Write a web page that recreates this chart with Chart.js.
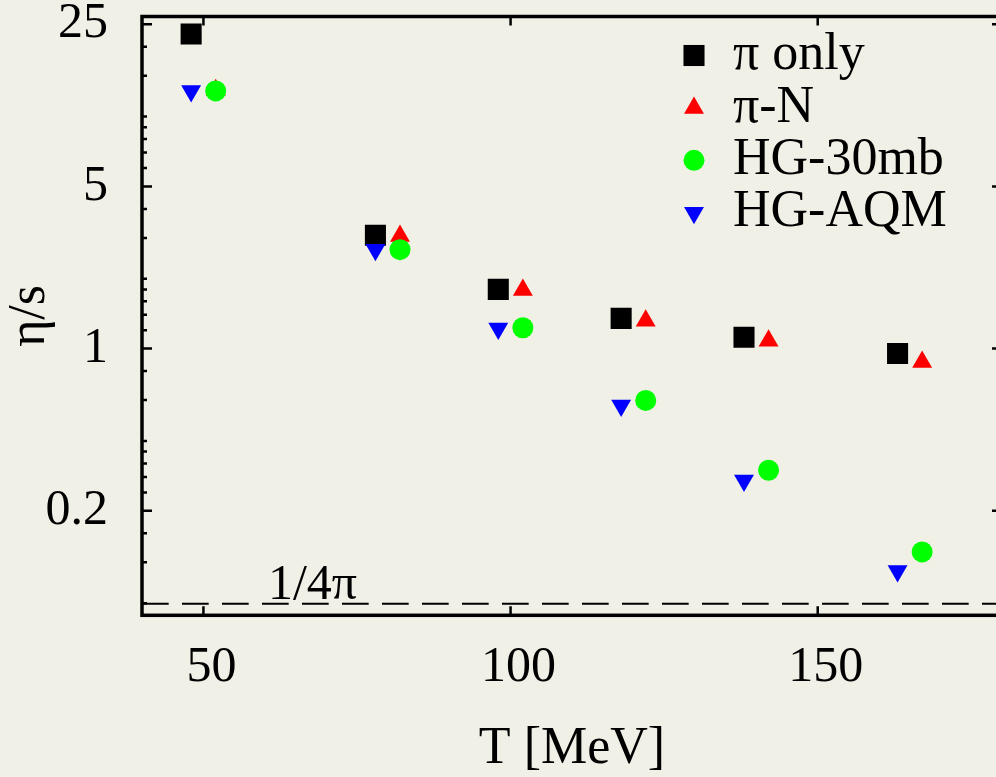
<html>
<head>
<meta charset="UTF-8"/>
<style>
html, body {
 width: 100%;
 height: 100%;
 margin: 0px;
 border: 0;
 overflow: hidden;
 display: block;
 background-color: #f1f0e6;
}
canvas { display: block; }
</style>
<script src="https://cdn.jsdelivr.net/npm/chart.js@4.4.1/dist/chart.umd.min.js"></script>
<script type="text/javascript">
// temperatures, shifted a little left / right of each other in the plot
var tempLeft  = [48, 78, 98, 118, 138, 163];
var tempRight = [52, 82, 102, 122, 142, 167];

// eta/s values
var piOnly = [22.7, 3.08, 1.80, 1.35, 1.12, 0.953];
var piN    = [13.0, 3.06, 1.79, 1.32, 1.08, 0.876];
var hg30mb = [12.9, 2.67, 1.23, 0.598, 0.299, 0.133];
var hgAqm  = [12.9, 2.67, 1.22, 0.569, 0.270, 0.110];

// KSS bound
var kssValue = 1 / (4 * Math.PI);
var kssLabel = '1/4\u03c0';
var kssLabelT = 60.5;

var xRange = [40, 180];
var yRange = [0.0709, 27.0];
var xTicks = [50, 100, 150];
var yTicks = [0.08, 0.12, 0.16, 0.2, 0.24, 0.28, 0.32, 0.36, 0.4, 0.6, 0.8,
              1, 1.2, 1.4, 1.6, 1.8, 2, 3, 4, 5, 6, 7, 8, 9, 10, 15, 20, 25];
var yLabeled = [0.2, 1, 5, 25];

var serif = "'Liberation Serif', 'Times New Roman', serif";

function points(xs, ys) {
    return xs.map(function(x, i) { return {x: x, y: ys[i]}; });
}

var frame = {
    id: 'frame',
    afterDraw: function(chart) {
        var ctx = chart.ctx;
        var a = chart.chartArea;
        var xs = chart.scales.x, ys = chart.scales.y;
        ctx.save();
        ctx.strokeStyle = '#000';
        ctx.lineCap = 'butt';

        // inward ticks on all four sides
        ctx.lineWidth = 2.5;
        ctx.beginPath();
        yTicks.forEach(function(v) {
            var y = ys.getPixelForValue(v);
            var len = yLabeled.indexOf(v) >= 0 ? 10 : 5;
            ctx.moveTo(a.left, y); ctx.lineTo(a.left + len, y);
            ctx.moveTo(a.right, y); ctx.lineTo(a.right - len, y);
        });
        xTicks.forEach(function(v) {
            var x = xs.getPixelForValue(v);
            ctx.moveTo(x, a.bottom); ctx.lineTo(x, a.bottom - 9);
            ctx.moveTo(x, a.top); ctx.lineTo(x, a.top + 9);
        });
        ctx.stroke();

        ctx.lineWidth = 3.5;
        ctx.strokeRect(a.left, a.top, a.right - a.left, a.bottom - a.top);

        // 1/4pi label above the dashed line
        ctx.fillStyle = '#000';
        ctx.font = '50px ' + serif;
        ctx.textAlign = 'left';
        ctx.textBaseline = 'alphabetic';
        ctx.fillText(kssLabel, xs.getPixelForValue(kssLabelT), ys.getPixelForValue(kssValue) - 5);

        // legend
        var row = 0;
        chart.data.datasets.forEach(function(ds) {
            if (ds.showLine) return;
            var y = 55.5 + 52.4 * row;
            ctx.fillStyle = ds.backgroundColor;
            Chart.helpers.drawPoint(ctx, {
                pointStyle: ds.pointStyle,
                radius: ds.pointRadius,
                rotation: ds.rotation || 0,
                borderWidth: 0
            }, 694, y);
            ctx.fillStyle = '#000';
            ctx.font = '52px ' + serif;
            ctx.textBaseline = 'middle';
            ctx.fillText(ds.label, 733, y);
            row++;
        });
        ctx.restore();
    }
};

function init() {
    var ctx = document.getElementById('myChart').getContext('2d');
    new Chart(ctx, {
        type: 'scatter',
        data: {
            datasets: [{
                label: '\u03c0 only',
                data: points(tempLeft, piOnly),
                backgroundColor: '#000000',
                pointStyle: 'rect',
                pointRadius: 14.9,
                pointBorderWidth: 0,
                order: 4
            }, {
                label: '\u03c0-N',
                data: points(tempRight, piN),
                backgroundColor: '#ff0000',
                pointStyle: 'triangle',
                pointRadius: 11.5,
                pointBorderWidth: 0,
                order: 3
            }, {
                label: 'HG-30mb',
                data: points(tempRight, hg30mb),
                backgroundColor: '#00ff00',
                pointStyle: 'circle',
                pointRadius: 10.5,
                pointBorderWidth: 0,
                order: 2
            }, {
                label: 'HG-AQM',
                data: points(tempLeft, hgAqm),
                backgroundColor: '#0000ff',
                pointStyle: 'triangle',
                rotation: 180,
                pointRadius: 11.5,
                pointBorderWidth: 0,
                order: 1
            }, {
                label: 'KSS',
                data: points(xRange, [kssValue, kssValue]),
                showLine: true,
                borderColor: '#000000',
                borderWidth: 2,
                borderDash: [26.7, 13.3],
                pointRadius: 0,
                order: 5
            }]
        },
        options: {
            responsive: false,
            devicePixelRatio: 1,
            animation: false,
            events: [],
            // frame's right edge lies just past the window edge
            layout: { autoPadding: false, padding: { top: 16.5, right: 0, left: 0, bottom: 0 } },
            plugins: {
                legend: { display: false },
                tooltip: { enabled: false }
            },
            scales: {
                x: {
                    type: 'linear',
                    min: xRange[0],
                    max: xRange[1],
                    bounds: 'data',
                    grid: { display: false, drawTicks: false },
                    border: { display: false },
                    afterBuildTicks: function(scale) {
                        scale.ticks = xTicks.map(function(v) { return {value: v}; });
                    },
                    afterFit: function(scale) {
                        scale.height = 161.7;
                        scale.paddingLeft = 0;
                        scale.paddingRight = 0;
                    },
                    ticks: {
                        color: '#000',
                        font: { family: serif, size: 50, lineHeight: 1 },
                        padding: 28,
                        labelOffset: 8,
                        maxRotation: 0,
                        autoSkip: false,
                        callback: function(v) { return String(v); }
                    },
                    title: {
                        display: true,
                        text: 'T [MeV]',
                        color: '#000',
                        font: { family: serif, size: 52, lineHeight: 1 },
                        padding: { top: 0, bottom: 2 }
                    }
                },
                y: {
                    type: 'logarithmic',
                    min: yRange[0],
                    max: yRange[1],
                    bounds: 'data',
                    grid: { display: false, drawTicks: false },
                    border: { display: false },
                    afterBuildTicks: function(scale) {
                        scale.ticks = yTicks.map(function(v) { return {value: v}; });
                    },
                    afterFit: function(scale) {
                        scale.width = 142;
                        scale.paddingTop = 0;
                        scale.paddingBottom = 0;
                    },
                    ticks: {
                        color: '#000',
                        font: { family: serif, size: 50, lineHeight: 1 },
                        padding: 34,
                        autoSkip: false,
                        callback: function(v) {
                            return yLabeled.indexOf(v) >= 0 ? String(v) : '';
                        }
                    },
                    title: {
                        display: true,
                        text: '\u03b7/s',
                        color: '#000',
                        font: { family: serif, size: 52, lineHeight: 1 },
                        padding: { top: 4, bottom: 0 }
                    }
                }
            }
        },
        plugins: [frame]
    });
}
</script>
<title>eta/s</title>
</head>

<body onload="JavaScript:init();">
<canvas id="myChart" width="1002" height="777"></canvas>
</body>
</html>
